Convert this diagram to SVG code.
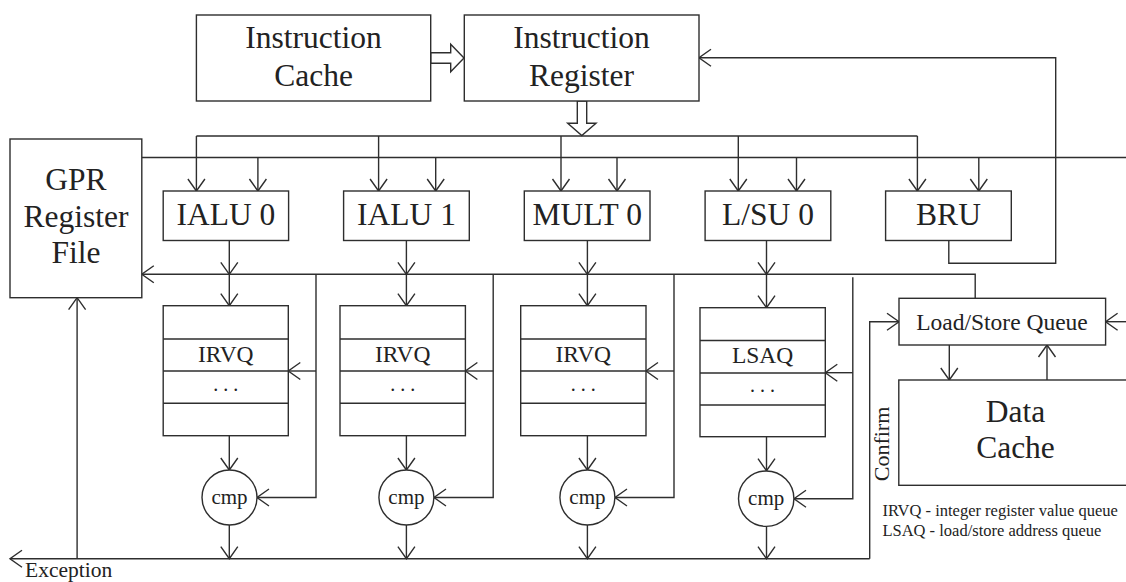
<svg xmlns="http://www.w3.org/2000/svg" width="1126" height="582" viewBox="0 0 1126 582">
<style>
.b{fill:#fff;stroke:#2e2e2e;stroke-width:1.4}
.l{fill:none;stroke:#2e2e2e;stroke-width:1.4}
.ar{fill:none;stroke:#2e2e2e;stroke-width:1.4;marker-end:url(#a)}
.t{font-family:"Liberation Serif","Times New Roman",serif;fill:#222;text-anchor:middle}
.big{font-size:31.5px}
.mid{font-size:23.5px}
.sm{font-size:16.5px}
</style>
<defs>
<marker id="a" viewBox="-14 -10 16 20" refX="0" refY="0" markerWidth="16" markerHeight="20" orient="auto" markerUnits="userSpaceOnUse">
<path d="M-12,-8.5 L0,0 L-12,8.5" fill="none" stroke="#2e2e2e" stroke-width="1.4"/>
</marker>
</defs>
<rect width="1126" height="582" fill="#fff"/>

<g id="connectors">
<polygon class="b" points="430.7,52.7 450.7,52.7 450.7,44.3 464,58 450.7,71.7 450.7,63.3 430.7,63.3"/>
<polygon class="b" points="577.3,101 586.7,101 586.7,123.3 596,123.3 581.8,135.5 567.7,123.3 577.3,123.3"/>
<path class="l" d="M141.8,157.5 H1126"/>
<path class="ar" d="M257.9,157.5 V191"/>
<path class="ar" d="M435.7,157.5 V191"/>
<path class="ar" d="M617,157.5 V191"/>
<path class="ar" d="M796.5,157.5 V191"/>
<path class="ar" d="M978.8,157.5 V191"/>
<path class="l" d="M196.4,136 H917.4"/>
<path class="ar" d="M196.4,136 V191"/>
<path class="ar" d="M378.6,136 V191"/>
<path class="ar" d="M561,136 V191"/>
<path class="ar" d="M738.3,136 V191"/>
<path class="ar" d="M917.4,136 V191"/>
<path class="ar" d="M948.8,240.5 V263.3 H1055.7 V57.7 H699"/>
<path class="ar" d="M975.2,298.3 V274.3 H141.8"/>
<path class="ar" d="M229.3,240.5 V274.3"/>
<path class="ar" d="M406.4,240.5 V274.3"/>
<path class="ar" d="M587.4,240.5 V274.3"/>
<path class="ar" d="M766.5,240.5 V274.3"/>
<path class="ar" d="M229.3,274.3 V305.7"/>
<path class="ar" d="M406.4,274.3 V305.7"/>
<path class="ar" d="M587.4,274.3 V305.7"/>
<path class="ar" d="M766.5,274.3 V307.7"/>
<path class="ar" d="M316,274.3 V497.5 H257"/>
<path class="ar" d="M316,371 H288.3"/>
<path class="ar" d="M493.2,274.3 V497.5 H434"/>
<path class="ar" d="M493.2,371 H465.4"/>
<path class="ar" d="M674,274.3 V497.5 H615"/>
<path class="ar" d="M674,371 H646"/>
<path class="ar" d="M852.8,277.3 V498.7 H794"/>
<path class="ar" d="M852.8,372.7 H825.3"/>
<path class="ar" d="M229.3,435.7 V470"/>
<path class="ar" d="M406.4,435.7 V470"/>
<path class="ar" d="M587.4,435.7 V470"/>
<path class="ar" d="M766.5,436.7 V470.7"/>
<path class="ar" d="M229.3,525 V558.7"/>
<path class="ar" d="M406.4,525 V558.7"/>
<path class="ar" d="M587.4,525 V558.7"/>
<path class="ar" d="M766.5,526.7 V558.7"/>
<path class="ar" d="M869.7,558.7 H10"/>
<path class="ar" d="M869.7,558.7 V321.7 H899"/>
<path class="ar" d="M77.1,558.7 V297.7"/>
<path class="ar" d="M1126,321.7 H1105.6"/>
<path class="ar" d="M949.3,345 V380"/>
<path class="ar" d="M1047,380 V345"/>
</g>

<g id="instruction-cache">
<rect class="b" x="196.4" y="15" width="234.3" height="86"/>
<text class="t big" x="313.6" y="48.3">Instruction</text>
<text class="t big" x="313.6" y="85.7">Cache</text>
</g>
<g id="instruction-register">
<rect class="b" x="464.3" y="15" width="234.7" height="86"/>
<text class="t big" x="581.5" y="48.3">Instruction</text>
<text class="t big" x="581.5" y="85.7">Register</text>
</g>
<g id="gpr">
<rect class="b" x="10" y="139" width="131.8" height="158.7"/>
<text class="t big" x="75.9" y="190">GPR</text>
<text class="t big" x="75.9" y="226.7">Register</text>
<text class="t big" x="75.9" y="263.3">File</text>
</g>
<g id="ialu0">
<rect class="b" x="163.2" y="191" width="125.4" height="49.5"/>
<text class="t big" x="225.9" y="224.5">IALU 0</text>
</g>
<g id="ialu1">
<rect class="b" x="343.6" y="191" width="125.7" height="49.5"/>
<text class="t big" x="406.5" y="224.5">IALU 1</text>
</g>
<g id="mult0">
<rect class="b" x="524.3" y="191" width="125.7" height="49.5"/>
<text class="t big" x="587.2" y="224.5">MULT 0</text>
</g>
<g id="lsu0">
<rect class="b" x="705.1" y="191" width="125.7" height="49.5"/>
<text class="t big" x="768" y="224.5">L/SU 0</text>
</g>
<g id="bru">
<rect class="b" x="885.6" y="191" width="125.7" height="49.5"/>
<text class="t big" x="948.5" y="224.5">BRU</text>
</g>

<g id="irvq0">
<rect class="b" x="163.2" y="305.7" width="125.1" height="130"/>
<path class="l" d="M163.2,339 H288.3 M163.2,371 H288.3 M163.2,403.3 H288.3"/>
<text class="t mid" x="225.8" y="361.7">IRVQ</text>
<text class="t" style="font-size:20px" x="225.8" y="390.5">. . .</text>
</g>
<g id="irvq1">
<rect class="b" x="340" y="305.7" width="125.4" height="130"/>
<path class="l" d="M340,339 H465.4 M340,371 H465.4 M340,403.3 H465.4"/>
<text class="t mid" x="402.7" y="361.7">IRVQ</text>
<text class="t" style="font-size:20px" x="402.7" y="390.5">. . .</text>
</g>
<g id="irvq2">
<rect class="b" x="520.7" y="305.7" width="125.3" height="130"/>
<path class="l" d="M520.7,339 H646 M520.7,371 H646 M520.7,403.3 H646"/>
<text class="t mid" x="583.3" y="361.7">IRVQ</text>
<text class="t" style="font-size:20px" x="583.3" y="390.5">. . .</text>
</g>
<g id="lsaq">
<rect class="b" x="700" y="307.7" width="125.3" height="129"/>
<path class="l" d="M700,340.5 H825.3 M700,373 H825.3 M700,405 H825.3"/>
<text class="t mid" x="762.6" y="363.3">LSAQ</text>
<text class="t" style="font-size:20px" x="762.6" y="392">. . .</text>
</g>

<g id="cmp0">
<circle class="b" cx="229.5" cy="497.5" r="27.5"/>
<text class="t" style="font-size:21px" x="229.5" y="504">cmp</text>
</g>
<g id="cmp1">
<circle class="b" cx="406.4" cy="497.5" r="27.5"/>
<text class="t" style="font-size:21px" x="406.4" y="504">cmp</text>
</g>
<g id="cmp2">
<circle class="b" cx="587.4" cy="497.5" r="27.5"/>
<text class="t" style="font-size:21px" x="587.4" y="504">cmp</text>
</g>
<g id="cmp3">
<circle class="b" cx="766.2" cy="498.7" r="27.7"/>
<text class="t" style="font-size:21px" x="766.2" y="505.2">cmp</text>
</g>

<g id="load-store-queue">
<rect class="b" x="899" y="298.3" width="206.6" height="46.7"/>
<text class="t mid" x="1002" y="330">Load/Store Queue</text>
</g>
<g id="data-cache">
<rect class="b" x="898.8" y="380" width="240" height="105.3"/>
<text class="t big" x="1015.5" y="421.7">Data</text>
<text class="t big" x="1015.5" y="458.3">Cache</text>
</g>

<g id="labels">
<text class="t" style="font-size:22px" transform="translate(889.2,444) rotate(-90)" x="0" y="0">Confirm</text>
<text class="t" style="font-size:21.5px;text-anchor:start" x="25" y="576.5">Exception</text>
<text class="t sm" style="text-anchor:start" x="882.4" y="516">IRVQ - integer register value queue</text>
<text class="t sm" style="text-anchor:start" x="882.4" y="536">LSAQ - load/store address queue</text>
</g>
</svg>
